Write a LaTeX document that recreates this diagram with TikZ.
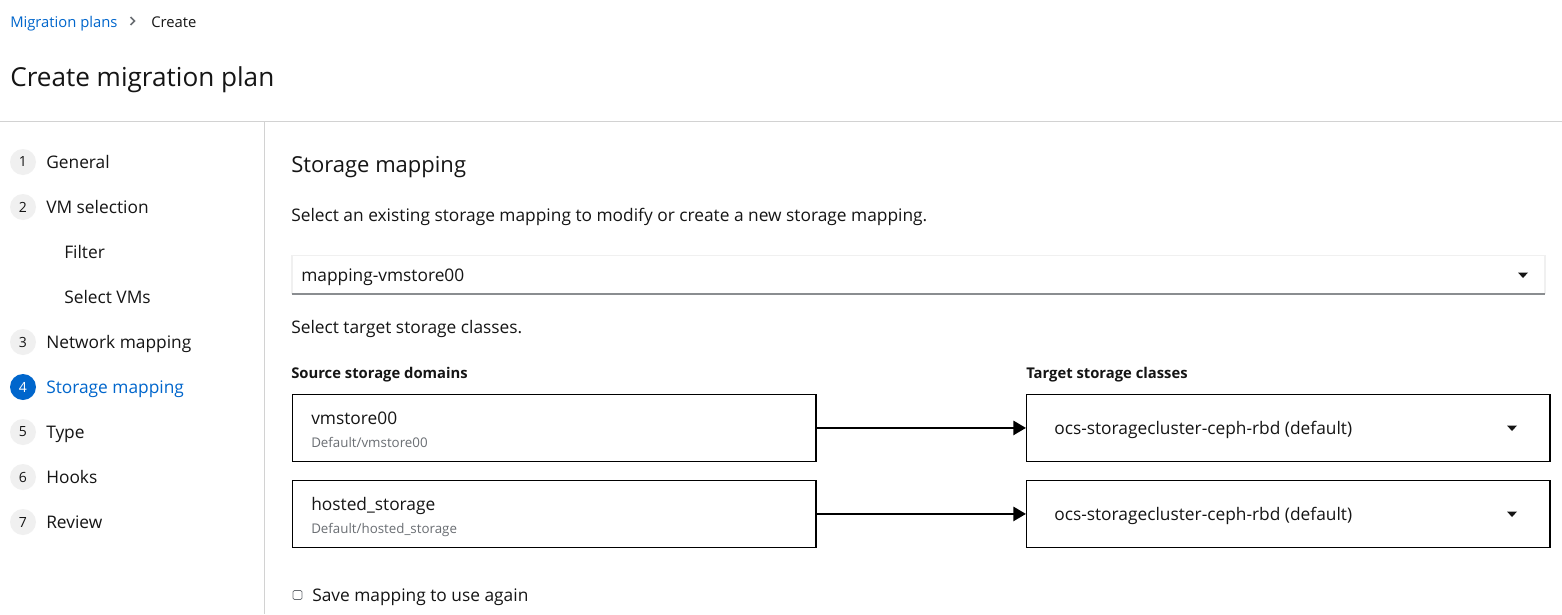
\documentclass[tikz,border=0pt]{standalone}
\usepackage{fontspec}
\setmainfont{Open Sans}
\usetikzlibrary{arrows.meta}
\definecolor{pfblue}{HTML}{0066CC}
\definecolor{pfgray}{HTML}{6A6E73}
\definecolor{pfline}{HTML}{D2D2D2}
\definecolor{pfcircle}{HTML}{F0F0F0}
\definecolor{pftext}{HTML}{151515}
\definecolor{pfselbot}{HTML}{8A8D90}
\begin{document}
\begin{tikzpicture}[x=0.75pt,y=-0.75pt,
  lbl/.style={anchor=west, inner sep=0pt, text height=0.7em, text depth=0pt, text=pftext, yshift=-1.5pt},
  txt/.style={lbl, font=\fontsize{13}{15}\selectfont},
  small/.style={lbl, font=\fontsize{11.1}{13}\selectfont},
  sub/.style={lbl, text=pfgray, font=\fontsize{10}{12}\selectfont},
  bold/.style={lbl, font=\fontsize{11.1}{13}\selectfont\bfseries},
  stepnum/.style={circle, fill=pfcircle, minimum size=19.5pt, inner sep=0pt, text=pftext, font=\fontsize{10.5}{12}\selectfont},
  stepact/.style={stepnum, fill=pfblue, text=white},
  mapbox/.style={draw=black, line width=0.9pt, rectangle, anchor=north west, inner sep=0pt, minimum width=392.5pt, minimum height=50pt},
  maparrow/.style={line width=2.1pt, -{Triangle[length=9.5pt,width=10.5pt]}},
  caret/.style={fill=pftext}
]
\useasboundingbox (0,0) rectangle (1562,614);
\fill[white] (0,0) rectangle (1562,614);

% breadcrumb
\node[small, text=pfblue] (bc1) at (10,21) {Migration plans};
\draw[pfgray, line width=1.2pt] (130.5,17) -- (134.5,21) -- (130.5,25);
\node[small] (bc2) at (151,21) {Create};

% title
\node[lbl, font=\fontsize{19.6}{24}\selectfont] (title) at (10,79.5) {Create migration plan};

% separators
\draw[pfline, line width=0.9pt] (0,121.5) -- (1562,121.5);
\draw[pfline, line width=0.9pt] (264.5,121.5) -- (264.5,614);

% sidebar
\node[stepnum] (n1) at (23,162) {1};
\node[txt] (l1) at (46,162) {General};
\node[stepnum] (n2) at (23,207) {2};
\node[txt] (l2) at (46,207) {VM selection};
\node[txt] (l2a) at (64,252) {Filter};
\node[txt] (l2b) at (64,297) {Select VMs};
\node[stepnum] (n3) at (23,342) {3};
\node[txt] (l3) at (46,342) {Network mapping};
\node[stepact] (n4) at (23,387) {4};
\node[txt, text=pfblue] (l4) at (46,387) {Storage mapping};
\node[stepnum] (n5) at (23,432) {5};
\node[txt] (l5) at (46,432) {Type};
\node[stepnum] (n6) at (23,477) {6};
\node[txt] (l6) at (46,477) {Hooks};
\node[stepnum] (n7) at (23,522) {7};
\node[txt] (l7) at (46,522) {Review};

% main content
\node[lbl, font=\fontsize{16.5}{20}\selectfont] (head) at (291,166) {Storage mapping};
\node[txt] (intro) at (291,215) {Select an existing storage mapping to modify or create a new storage mapping.};

% select dropdown
\draw[pfcircle, line width=0.9pt] (292,294) -- (292,255.5) -- (1545,255.5) -- (1545,294);
\draw[pfselbot, line width=0.9pt] (292,294) -- (1545,294);
\node[txt] (sel) at (301,275) {mapping-vmstore00};
\fill[caret] (1518,272.5) -- (1528,272.5) -- (1523,278) -- cycle;

\node[txt] (tgt) at (291,327) {Select target storage classes.};
\node[bold] (srch) at (291,372) {Source storage domains};
\node[bold] (tgth) at (1026,372) {Target storage classes};

% row 1
\node[mapbox] (s1) at (292,394) {};
\node[txt] (s1a) at (311,418) {vmstore00};
\node[sub] (s1b) at (311,441) {Default/vmstore00};
\node[mapbox] (t1) at (1026,394) {};
\node[txt] (t1a) at (1054,428) {ocs-storagecluster-ceph-rbd (default)};
\fill[caret] (1507,425.5) -- (1517,425.5) -- (1512,431) -- cycle;
\draw[maparrow] (s1.east) -- (t1.west);

% row 2
\node[mapbox] (s2) at (292,480) {};
\node[txt] (s2a) at (311,504) {hosted\_storage};
\node[sub] (s2b) at (311,527) {Default/hosted\_storage};
\node[mapbox] (t2) at (1026,480) {};
\node[txt] (t2a) at (1054,514) {ocs-storagecluster-ceph-rbd (default)};
\fill[caret] (1507,511.5) -- (1517,511.5) -- (1512,517) -- cycle;
\draw[maparrow] (s2.east) -- (t2.west);

% checkbox
\draw[pfgray, line width=0.6pt, rounded corners=1pt] (293,590.5) rectangle (302,599.5);
\node[txt] (save) at (312,595) {Save mapping to use again};
\end{tikzpicture}
\end{document}
